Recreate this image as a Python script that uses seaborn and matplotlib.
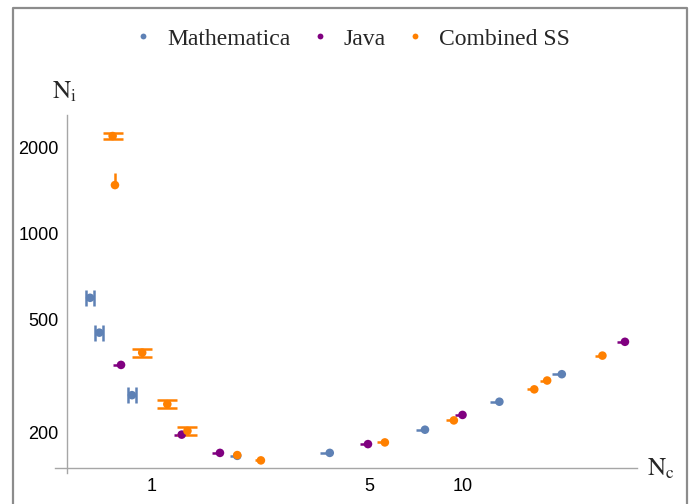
import numpy as np
import pandas as pd
import matplotlib
matplotlib.use("Agg")
import matplotlib.pyplot as plt
import seaborn as sns
from matplotlib.lines import Line2D
from matplotlib.ticker import NullFormatter

# ---- data -------------------------------------------------------------
series_names = ["Mathematica", "Java", "Combined SS"]

math_nc = [0.632, 0.677, 0.862, 1.88, 3.73, 7.55, 13.1, 20.8]
math_ni = [595, 449, 271, 166, 170, 205, 257, 321]
math_nc_err_lo = [0.019, 0.020, 0.026, 0.10, 0.25, 0.50, 0.90, 1.40]
math_nc_err_hi = [0.019, 0.020, 0.026, 0.0, 0.0, 0.0, 0.0, 0.0]
math_ni_err_lo = [0, 0, 0, 0, 0, 0, 0, 0]
math_ni_err_hi = [0, 0, 0, 0, 0, 0, 0, 0]

java_nc = [0.795, 1.246, 1.654, 4.95, 9.97, 33.2]
java_ni = [346, 197, 170, 182.5, 231, 417]
java_nc_err_lo = [0.045, 0.07, 0.09, 0.28, 0.55, 1.8]
java_nc_err_hi = [0.0, 0.0, 0.0, 0.0, 0.0, 0.0]
java_ni_err_lo = [0, 0, 0, 0, 0, 0]
java_ni_err_hi = [3, 2, 2, 0, 0, 0]

comb_nc = [0.747, 0.760, 0.93, 1.12, 1.30, 1.88, 2.24, 5.61, 9.35, 16.96, 18.66, 28.1]
comb_ni = [2198, 1479, 382, 252, 203, 167, 160, 185, 221, 284, 305, 373]
comb_nc_err_lo = [0.0, 0.0, 0.0, 0.0, 0.0, 0.0, 0.10, 0.30, 0.50, 0.90, 1.0, 1.5]
comb_nc_err_hi = [0.0, 0.0, 0.0, 0.0, 0.0, 0.0, 0.0, 0.0, 0.0, 0.0, 0.0, 0.0]
comb_ni_err_lo = [50, 0, 12, 8, 6.5, 0, 0, 0, 0, 0, 0, 0]
comb_ni_err_hi = [50, 150, 12, 8, 6.5, 4, 0, 0, 0, 0, 0, 0]

x_major = [1, 5, 10]
x_major_labels = ["1", "5", "10"]
x_minor = [0.5, 0.6, 0.7, 0.8, 0.9, 2, 3, 4, 6, 7, 8, 9, 20, 30]
y_major = [200, 500, 1000, 2000]
y_major_labels = ["200", "500", "1000", "2000"]
y_minor = [300, 400, 600, 700, 800, 900, 1500]

# ---- styling ----------------------------------------------------------
colors = {"Mathematica": "#5E81B5", "Java": "#800080", "Combined SS": "#FF8000"}
xcap = {"Mathematica": 5.5, "Java": 0, "Combined SS": 0}
ycap = {"Mathematica": 0, "Java": 0, "Combined SS": 7.5}

sns.set_theme(style="white")
plt.rcParams["font.family"] = ["Liberation Sans", "DejaVu Sans"]
plt.rcParams["mathtext.fontset"] = "stix"

df = pd.concat([
    pd.DataFrame({"Nc": math_nc, "Ni": math_ni, "source": "Mathematica"}),
    pd.DataFrame({"Nc": java_nc, "Ni": java_ni, "source": "Java"}),
    pd.DataFrame({"Nc": comb_nc, "Ni": comb_ni, "source": "Combined SS"}),
], ignore_index=True)

errs = {
    "Mathematica": (math_nc, math_ni, math_nc_err_lo, math_nc_err_hi, math_ni_err_lo, math_ni_err_hi),
    "Java": (java_nc, java_ni, java_nc_err_lo, java_nc_err_hi, java_ni_err_lo, java_ni_err_hi),
    "Combined SS": (comb_nc, comb_ni, comb_nc_err_lo, comb_nc_err_hi, comb_ni_err_lo, comb_ni_err_hi),
}

fig = plt.figure(figsize=(6.91, 5.04), dpi=100)
ax = fig.add_axes([55 / 691, 31 / 504, 582 / 691, 358 / 504])
ax.set_xscale("log")
ax.set_yscale("log")


def draw_bars(x, y, lo, hi, color, cap, horizontal):
    """Two-sided bars get caps, one-sided bars are drawn plain."""
    two = (lo > 0) & (hi > 0)
    one = ((lo > 0) | (hi > 0)) & ~two
    for mask, cs in ((two, cap), (one, 0)):
        if not mask.any():
            continue
        err = [lo[mask], hi[mask]]
        kw = dict(xerr=err) if horizontal else dict(yerr=err)
        ax.errorbar(x[mask], y[mask], fmt="none", ecolor=color, elinewidth=1.8,
                    capsize=cs, capthick=1.8, zorder=2, **kw)


for name in series_names:
    x, y, xlo, xhi, ylo, yhi = (np.asarray(a, dtype=float) for a in errs[name])
    draw_bars(x, y, xlo, xhi, colors[name], xcap[name], True)
    draw_bars(x, y, ylo, yhi, colors[name], ycap[name], False)

sns.scatterplot(data=df, x="Nc", y="Ni", hue="source", hue_order=series_names,
                palette=colors, s=38, edgecolor="none", linewidth=0,
                legend=False, ax=ax, zorder=3)

ax.set_xlim(0.4875, 36.3)
ax.set_ylim(144.5, 2605)
ax.set_xlabel("")
ax.set_ylabel("")

ax.set_xticks(x_major, labels=x_major_labels)
ax.set_xticks(x_minor, minor=True)
ax.set_yticks(y_major, labels=y_major_labels)
ax.set_yticks(y_minor, minor=True)
ax.xaxis.set_minor_formatter(NullFormatter())
ax.yaxis.set_minor_formatter(NullFormatter())

axis_gray = "#a6a6a6"
for side in ("top", "right"):
    ax.spines[side].set_visible(False)
ax.spines["left"].set_position(("data", 0.533))
ax.spines["bottom"].set_position(("data", 150.7))
for side in ("left", "bottom"):
    ax.spines[side].set_color(axis_gray)
    ax.spines[side].set_linewidth(1.0)

ax.tick_params(which="both", direction="in", color=axis_gray, width=0.8,
               labelsize=13, labelcolor="black")
ax.tick_params(which="major", length=5, pad=7)
ax.tick_params(which="minor", length=3)
ax.tick_params(axis="y", which="major", pad=6)
ax.patch.set_alpha(0)

fig.text(64 / 691, 1 - 92 / 504, r"$\mathrm{N}_\mathrm{i}$", fontsize=18,
         ha="center", va="center")
fig.text(661 / 691, 1 - 469 / 504, r"$\mathrm{N}_\mathrm{c}$", fontsize=18,
         ha="center", va="center")

handles = [Line2D([], [], linestyle="none", marker="o", markersize=4.2,
                  markerfacecolor=colors[n], markeredgecolor="none")
           for n in series_names]
fig.legend(handles, series_names, loc="center",
           bbox_to_anchor=(353.5 / 691, 1 - 39 / 504), ncol=3, frameon=False,
           prop={"family": "Liberation Serif", "size": 17},
           handlelength=0.5, handletextpad=0.75, columnspacing=1.0)

# outer frame around the figure
frame_gray = "#8c8c8c"
l, r, t = 12.5 / 691, 686.5 / 691, 1 - 7.5 / 504
fig.add_artist(Line2D([l, l, r, r], [-0.02, t, t, -0.02],
                      transform=fig.transFigure, color=frame_gray, lw=1.6))

fig.savefig("out.png", dpi=100)
